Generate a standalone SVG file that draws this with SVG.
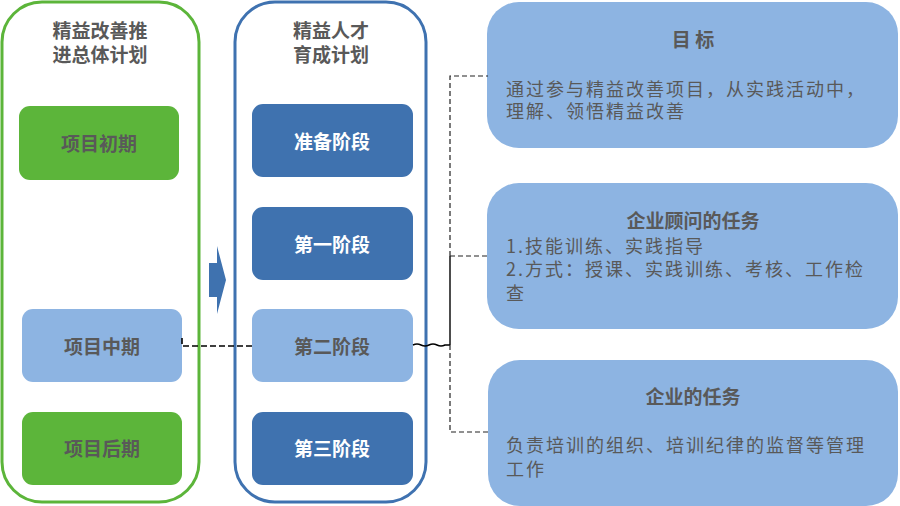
<svg xmlns="http://www.w3.org/2000/svg" width="900" height="506" viewBox="0 0 900 506">
<style>
text{font-family:"Noto Sans CJK SC","Noto Sans",sans-serif;fill:#595959;}
.t{font-size:19px;font-weight:bold;text-anchor:middle;dominant-baseline:central;}
.l{font-size:19px;font-weight:bold;text-anchor:middle;dominant-baseline:central;}
.w{fill:#ffffff;}
.b{font-size:18px;letter-spacing:2px;dominant-baseline:central;}
.green{fill:#5cb53a;}
.dark{fill:#3f72af;}
.light{fill:#8db4e2;}
.dash{fill:none;stroke:#222;stroke-width:1.2;stroke-dasharray:5 3;}
.dashb{fill:none;stroke:#000;stroke-width:1.6;stroke-dasharray:6 3;}
.solid{fill:none;stroke:#000;stroke-width:1.4;}
</style>
<rect width="900" height="506" fill="#ffffff"/>
<g id="container-left">
<rect x="2" y="2" width="197" height="500" rx="40" fill="none" stroke="#5cb53a" stroke-width="3"/>
<text class="t" x="100" y="29">精益改善推</text>
<text class="t" x="100" y="53">进总体计划</text>
</g>
<g id="container-right">
<rect x="235" y="2" width="191" height="500" rx="40" fill="none" stroke="#3f72b0" stroke-width="3"/>
<text class="t" x="331" y="29">精益人才</text>
<text class="t" x="331" y="53">育成计划</text>
</g>
<g id="n-early"><rect class="green" x="19" y="106" width="160" height="74" rx="11"/><text class="l" x="99" y="142">项目初期</text></g>
<g id="n-mid"><rect class="light" x="22" y="309" width="160" height="73" rx="11"/><text class="l" x="102" y="345">项目中期</text></g>
<g id="n-late"><rect class="green" x="22" y="412" width="160" height="73" rx="11"/><text class="l" x="102" y="447">项目后期</text></g>
<g id="n-prep"><rect class="dark" x="252" y="104" width="161" height="73" rx="11"/><text class="l w" x="332" y="140">准备阶段</text></g>
<g id="n-s1"><rect class="dark" x="252" y="207" width="161" height="73" rx="11"/><text class="l w" x="332" y="243">第一阶段</text></g>
<g id="n-s2"><rect class="light" x="252" y="309" width="161" height="73" rx="11"/><text class="l" x="332" y="345">第二阶段</text></g>
<g id="n-s3"><rect class="dark" x="252" y="412" width="161" height="73" rx="11"/><text class="l w" x="332" y="447">第三阶段</text></g>
<g id="arrow"><path d="M209 263 H217 V246 L226 280 L217 314 V297 H209 Z" fill="#3f72af"/></g>
<g id="box-goal">
<rect class="light" x="487" y="2" width="411" height="146" rx="32"/>
<text class="t" x="693" y="38">目 标</text>
<text class="b" x="506" y="88">通过参与精益改善项目，从实践活动中，</text>
<text class="b" x="506" y="110">理解、领悟精益改善</text>
</g>
<g id="box-consultant">
<rect class="light" x="487" y="183" width="411" height="146" rx="32"/>
<text class="t" x="693" y="219">企业顾问的任务</text>
<text class="b" x="506" y="245">1.技能训练、实践指导</text>
<text class="b" x="506" y="268">2.方式：授课、实践训练、考核、工作检</text>
<text class="b" x="506" y="292">查</text>
</g>
<g id="box-company">
<rect class="light" x="488" y="360" width="410" height="146" rx="32"/>
<text class="t" x="693" y="395">企业的任务</text>
<text class="b" x="506" y="444">负责培训的组织、培训纪律的监督等管理</text>
<text class="b" x="506" y="468">工作</text>
</g>
<g id="connectors">
<path class="dashb" d="M182 338 V346 H252"/>
<path class="solid" d="M413 345 Q417 343 421 345 T429 345 T437 345 T445 345 H450"/>
<path class="solid" d="M450 345 V256"/>
<path class="dash" d="M450 256 V76 H488"/>
<path class="dash" d="M450 256 H488"/>
<path class="dash" d="M450 345 V432 H488"/>
</g>
</svg>
